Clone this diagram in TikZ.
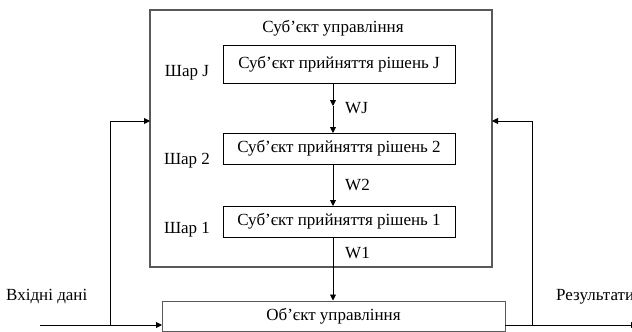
\documentclass[tikz,border=0pt]{standalone}
\usepackage{fontspec}
\setmainfont{Liberation Serif}
\usetikzlibrary{arrows.meta}
\begin{document}
\begin{tikzpicture}[x=1pt,y=-1pt,
  every node/.style={font=\fontsize{17}{19}\selectfont, inner sep=0pt},
  outerbox/.style={draw=black!65, line width=1.2pt},
  dmbox/.style={draw=black, line width=0.9pt},
  objbox/.style={draw=black!65, line width=1pt},
  conn/.style={draw=black, line width=0.9pt},
  arr/.style={conn, -{Triangle[length=6pt,width=6pt]}}
]
\useasboundingbox (0,0) rectangle (632,332);
\clip (0,0) rectangle (632,332);
% outer box
\path[outerbox] (150,10) rectangle (492,267);
\node (title) at (333,28) {Суб’єкт управління};
% decision boxes
\node[dmbox, minimum width=232pt, minimum height=38pt] (dJ) at (339,64) {Суб’єкт прийняття рішень J};
\node[dmbox, minimum width=232pt, minimum height=31pt] (d2) at (339,148.5) {Суб’єкт прийняття рішень 2};
\node[dmbox, minimum width=232pt, minimum height=31pt] (d1) at (339,221.5) {Суб’єкт прийняття рішень 1};
\node (sJ) at (187,73) {Шар J};
\node (s2) at (187,161) {Шар 2};
\node (s1) at (187,230) {Шар 1};
% object box
\node[objbox, minimum width=343pt, minimum height=30pt] (obj) at (333.5,316) {Об’єкт управління};
% vertical arrows
\coordinate (aJt) at (333,83);
\coordinate (aJm) at (333,106);
\coordinate (aJb) at (333,133);
\draw[arr] (aJt) -- (aJm);
\draw[arr] (aJm) -- (aJb);
\node[anchor=west] (wJ) at (345,108) {WJ};
\draw[arr] (333,164) -- (333,206);
\node[anchor=west] (w2) at (345,185) {W2};
\draw[arr] (333,237) -- (333,300.5);
\node[anchor=west] (w1) at (345,253) {W1};
% inputs / outputs
\coordinate (inL) at (40,325);
\coordinate (fbL) at (110,325);
\coordinate (fbLt) at (110,121);
\draw[arr] (inL) -- (162,325);
\draw[arr] (fbL) -- (fbLt) -- (150,121);
\node[anchor=west] (in) at (6,297) {Вхідні дані};
\coordinate (outR) at (637,325);
\coordinate (fbR) at (532,325);
\coordinate (fbRt) at (532,121);
\draw[arr] (505,325) -- (outR);
\draw[arr] (fbR) -- (fbRt) -- (492,121);
\node[anchor=west] (out) at (556,297) {Результати};
\end{tikzpicture}
\end{document}
